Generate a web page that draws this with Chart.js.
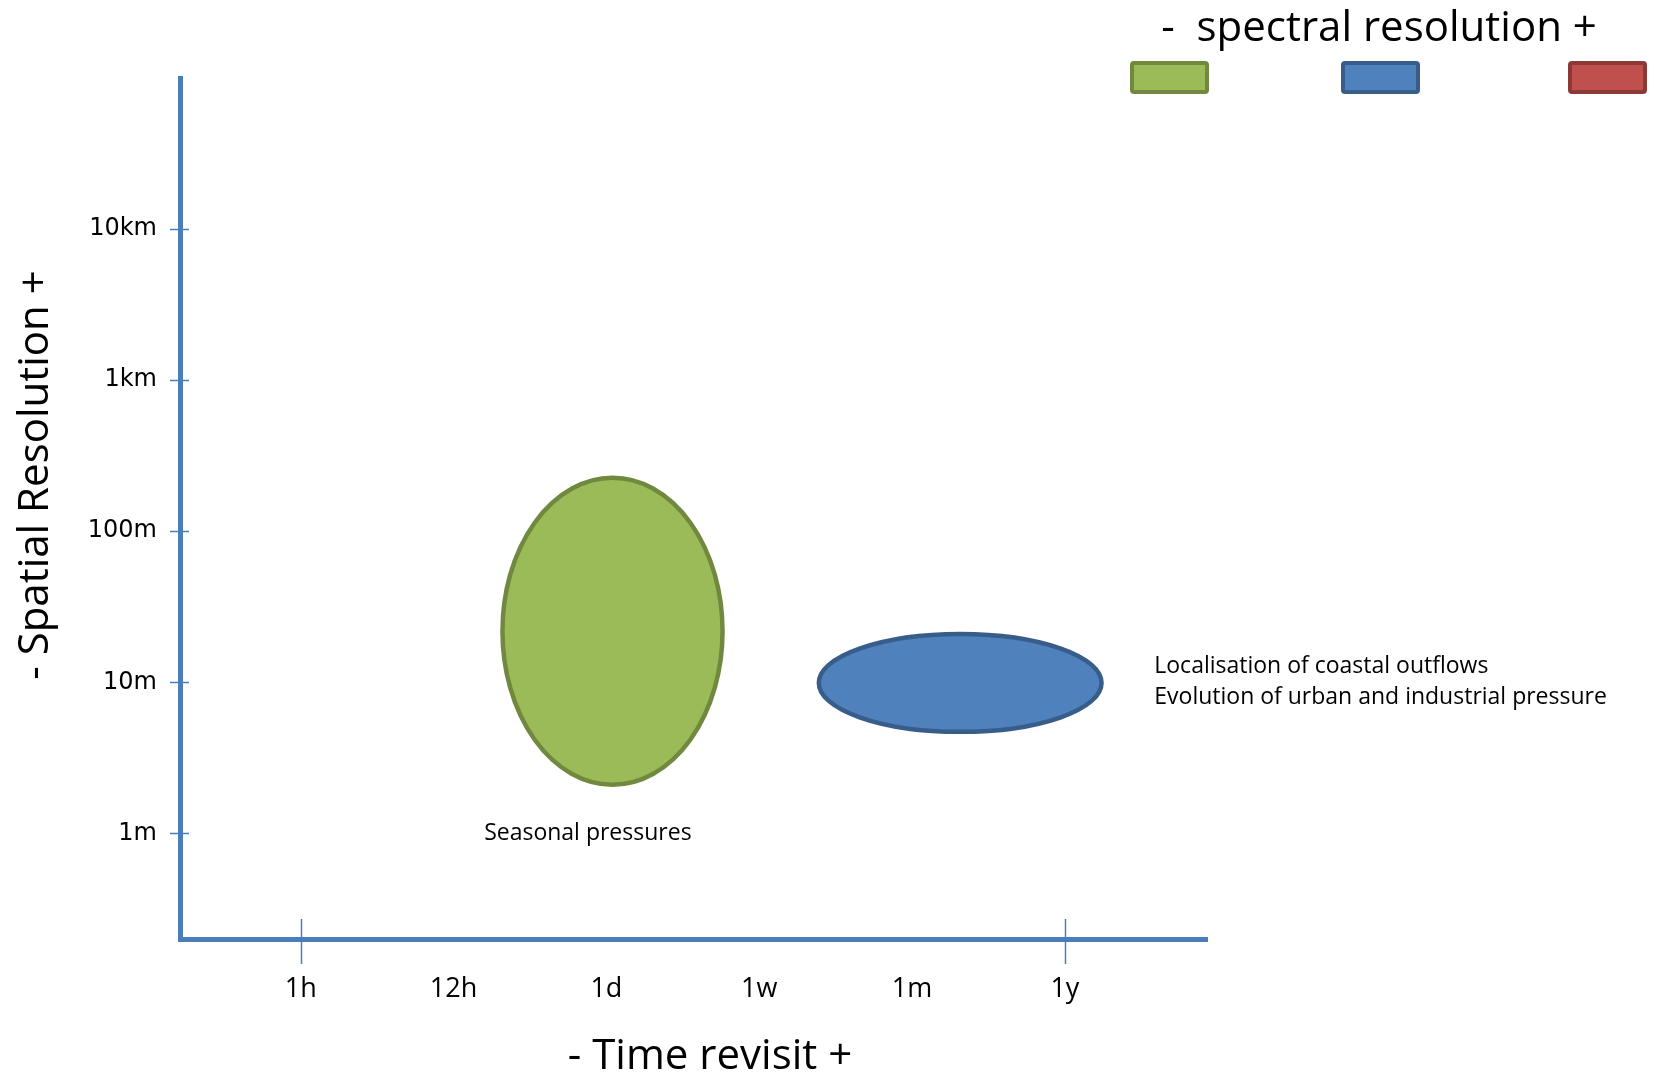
<!DOCTYPE html>
<html><head><meta charset="utf-8">
<script src="https://cdn.jsdelivr.net/npm/chart.js@4.4.1/dist/chart.umd.min.js"></script>
<style>html,body{margin:0;padding:0;background:#fff;}#wrap{width:1666px;height:1074px;}</style>
</head><body><div id="wrap"><canvas id="c" width="1666" height="1074"></canvas></div>
<script>
// ---- data ----
const timeLabels = ['1h', '12h', '1d', '1w', '1m', '1y'];
const timeMarked = ['1h', '1y'];
const resValues = [1, 10, 100, 1000, 10000];
const resLabels = ['1m', '10m', '100m', '1km', '10km'];

const zoneNames = ['Seasonal pressures', 'Coastal outflows / urban and industrial pressure'];
const zoneTimeFrom = [1.32, 3.39];
const zoneTimeTo = [2.76, 5.24];
const zoneResFrom = [2.1, 4.7];
const zoneResTo = [226, 20.9];
const zoneSpectral = [0, 1];

const spectralClasses = ['low', 'medium', 'high'];

const noteTexts = ['Seasonal pressures', 'Localisation of coastal outflows', 'Evolution of urban and industrial pressure'];
const noteTime = [1.2, 5.585, 5.585];
const noteRes = [1.0, 12.8, 7.9];

const xTitle = '- Time revisit +';
const yTitle = '- Spatial Resolution +';
const spectralTitle = '-  spectral resolution +';

// ---- styles ----
const spectralFill = ['#9BBB59', '#4F81BD', '#C0504D'];
const spectralStroke = ['#71893F', '#385D8A', '#8C3836'];
const axisColor = '#4A7EBB';
const FONT = "'Open Sans', 'Noto Sans', sans-serif";

const ellipsePlugin = {
  id: 'ellipses',
  afterDatasetsDraw(chart) {
    const {ctx, scales: {x, y}} = chart;
    zoneNames.forEach((n, i) => {
      const x0 = x.getPixelForValue(zoneTimeFrom[i]);
      const x1 = x.getPixelForValue(zoneTimeTo[i]);
      const y0 = y.getPixelForValue(zoneResTo[i]);
      const y1 = y.getPixelForValue(zoneResFrom[i]);
      const s = zoneSpectral[i];
      ctx.save();
      ctx.beginPath();
      ctx.ellipse((x0 + x1) / 2, (y0 + y1) / 2, (x1 - x0) / 2, (y1 - y0) / 2, 0, 0, Math.PI * 2);
      ctx.fillStyle = spectralFill[s];
      ctx.fill();
      ctx.lineWidth = 4.5;
      ctx.strokeStyle = spectralStroke[s];
      ctx.stroke();
      ctx.restore();
    });
  },
  afterDraw(chart) {
    const {ctx, scales: {x, y}} = chart;
    ctx.save();
    // y tick marks crossing axis
    ctx.strokeStyle = axisColor;
    ctx.lineWidth = 1.5;
    resValues.forEach(v => {
      const py = Math.round(y.getPixelForValue(v)) + 0.5;
      ctx.beginPath();
      ctx.moveTo(x.left - 10, py);
      ctx.lineTo(x.left + 9, py);
      ctx.stroke();
    });
    // x tick marks (only marked ones)
    timeLabels.forEach((l, i) => {
      if (!timeMarked.includes(l)) return;
      const px = Math.round(x.getPixelForValue(i)) + 0.5;
      ctx.beginPath();
      ctx.moveTo(px, y.bottom - 20);
      ctx.lineTo(px, y.bottom + 25);
      ctx.stroke();
    });
    // notes
    ctx.fillStyle = '#000';
    ctx.font = '23px ' + FONT;
    ctx.textAlign = 'left';
    ctx.textBaseline = 'middle';
    noteTexts.forEach((t, i) => {
      ctx.fillText(t, x.getPixelForValue(noteTime[i]), y.getPixelForValue(noteRes[i]));
    });
    // axis titles
    ctx.font = '42px ' + FONT;
    ctx.textAlign = 'center';
    ctx.fillText(xTitle, 710, 1057);
    ctx.save();
    ctx.translate(36, 475);
    ctx.rotate(-Math.PI / 2);
    ctx.fillText(yTitle, 0, 0);
    ctx.restore();
    // spectral legend
    ctx.fillText(spectralTitle, 1379, 29);
    const boxX = [1132, 1343, 1570];
    spectralClasses.forEach((c, i) => {
      ctx.beginPath();
      ctx.roundRect(boxX[i], 63, 75, 29, 2);
      ctx.fillStyle = spectralFill[i];
      ctx.fill();
      ctx.lineWidth = 4;
      ctx.strokeStyle = spectralStroke[i];
      ctx.stroke();
    });
    ctx.restore();
  }
};

new Chart(document.getElementById('c'), {
  type: 'scatter',
  data: {
    datasets: zoneNames.map((n, i) => ({
      label: n,
      data: [{x: (zoneTimeFrom[i] + zoneTimeTo[i]) / 2, y: Math.sqrt(zoneResFrom[i] * zoneResTo[i])}],
      pointRadius: 0,
      backgroundColor: spectralFill[zoneSpectral[i]]
    }))
  },
  options: {
    responsive: false,
    animation: false,
    layout: {padding: {left: 0, top: 78, right: 459, bottom: 0}},
    plugins: {legend: {display: false}, tooltip: {enabled: false}},
    scales: {
      x: {
        type: 'linear', min: -0.79, max: 5.93,
        afterBuildTicks: s => { s.ticks = timeLabels.map((_, i) => ({value: i})); },
        afterFit: s => { s.height = 135; },
        ticks: {
          callback: v => timeLabels[Math.round(v)],
          font: {family: FONT, size: 27}, color: '#000', padding: 34,
          maxRotation: 0, autoSkip: false
        },
        grid: {display: false, drawTicks: false},
        border: {display: true, color: axisColor, width: 5},
        title: {display: false}
      },
      y: {
        type: 'logarithmic', min: 0.2, max: 100000,
        afterBuildTicks: s => { s.ticks = resValues.map(v => ({value: v})); },
        afterFit: s => { s.width = 180; },
        ticks: {
          callback: v => { const i = resValues.indexOf(v); return i >= 0 ? resLabels[i] : ''; },
          font: {family: "'DejaVu Sans', sans-serif", size: 24}, color: '#000', padding: 23,
          autoSkip: false
        },
        grid: {display: false, drawTicks: false},
        border: {display: true, color: axisColor, width: 5},
        title: {display: false}
      }
    }
  },
  plugins: [ellipsePlugin]
});
</script>
</body></html>
